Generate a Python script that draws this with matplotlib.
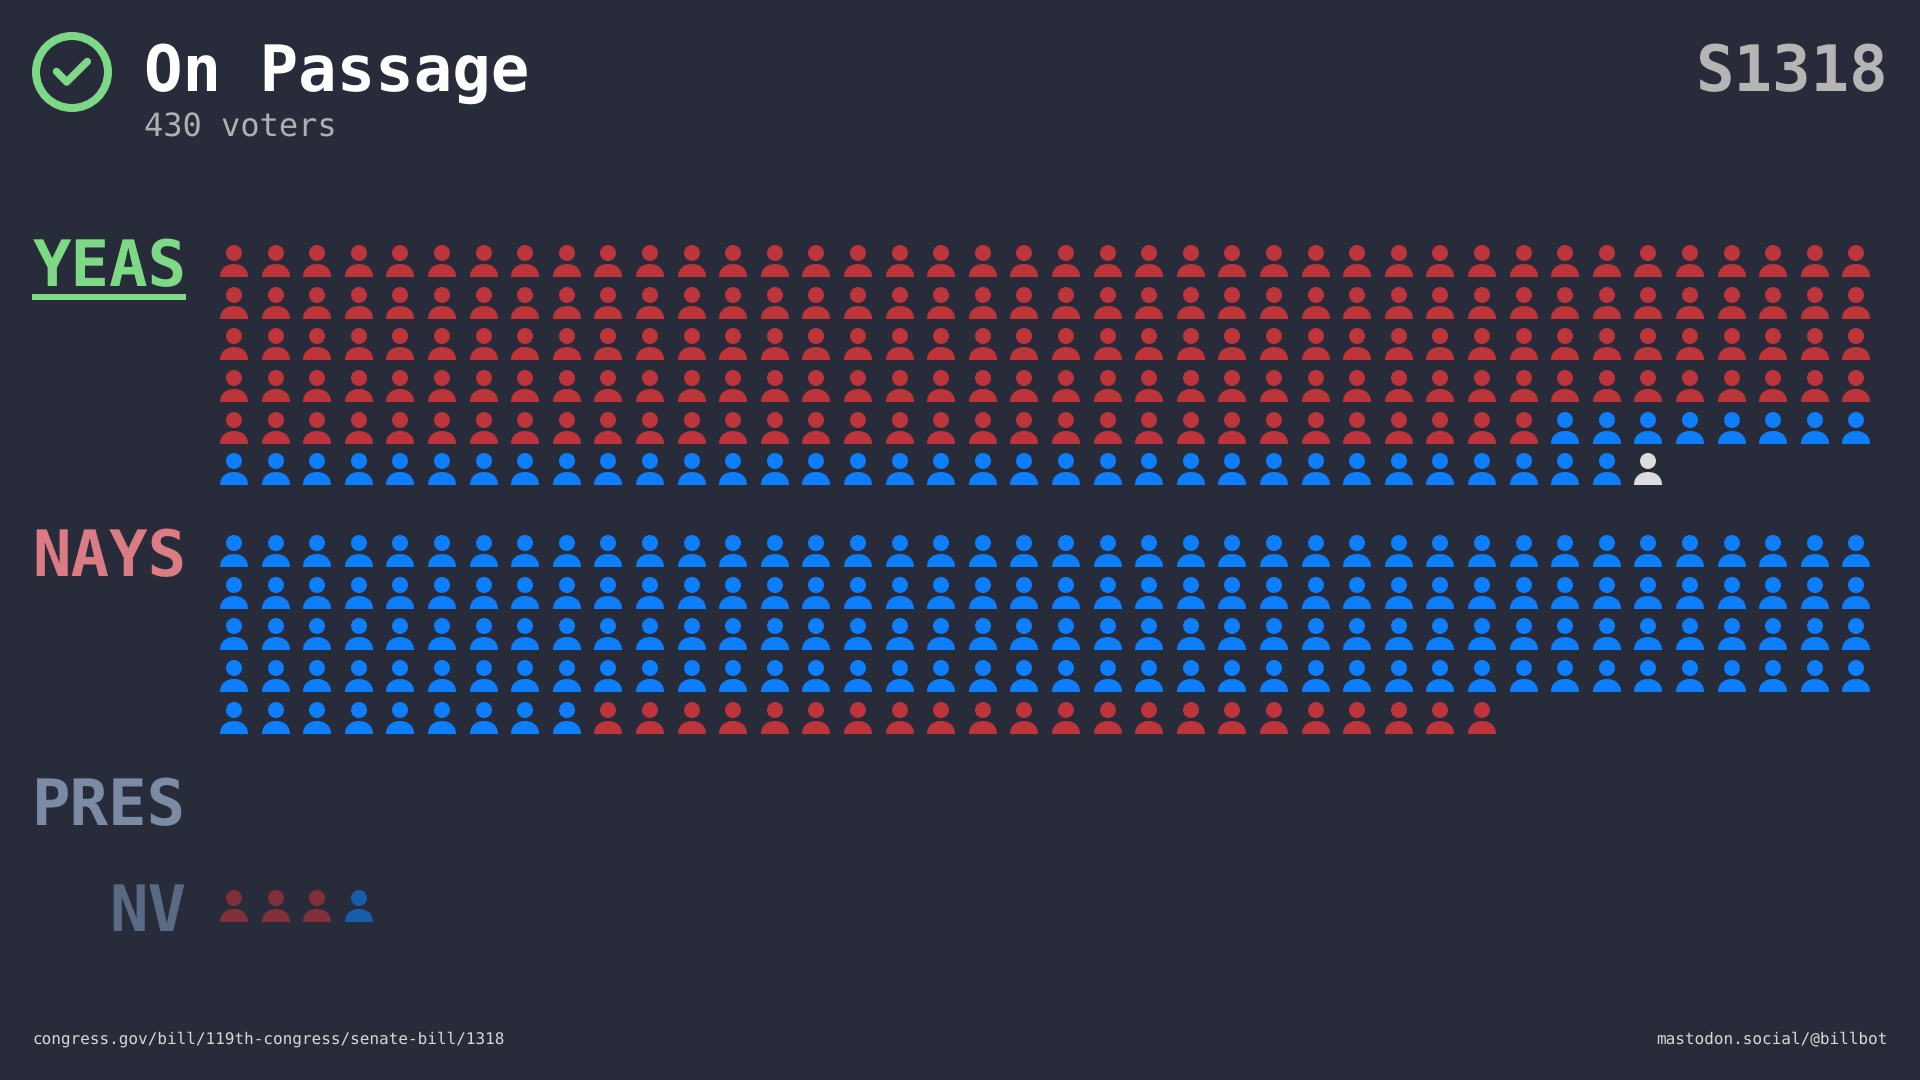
#! /usr/bin/env python
import matplotlib
matplotlib.use("Agg")
import matplotlib.pyplot as plt
from matplotlib.patches import Circle, PathPatch
from matplotlib.path import Path

BG = "#282c3a"
RED = "#bd343b"
BLUE = "#0d7efd"
WHITE = "#dddddd"

# votes per party, in the order they fill the grid
yeas_parties = ["R", "D", "I"]
yeas_counts = [192, 42, 1]
nays_parties = ["D", "R"]
nays_counts = [169, 22]
nv_parties = ["R", "D"]
nv_counts = [3, 1]

title = "On Passage"
voters = "430 voters"
bill = "S1318"
source = "congress.gov/bill/119th-congress/senate-bill/1318"
handle = "mastodon.social/@billbot"

COLORS = {"R": RED, "D": BLUE, "I": WHITE}
COLS = 40
X0 = 234
DX = 41.6
DY = 41.6
MONO = "DejaVu Sans Mono"

plt.rcParams["text.hinting"] = "no_hinting"
plt.rcParams["text.hinting_factor"] = 1


def px(size):
    # font size in pixels to points at 100 dpi
    return size * 72 / 100


def person(ax, cx, cy, color, alpha=1.0):
    ax.add_patch(Circle((cx, cy), 8, fc=color, ec="none", alpha=alpha))
    top, bot, w = cy + 11, cy + 24, 14
    verts = [(cx - w, bot), (cx - w, bot - 8), (cx - w * 0.6, top), (cx, top),
             (cx + w * 0.6, top), (cx + w, bot - 8), (cx + w, bot), (cx - w, bot)]
    codes = [Path.MOVETO, Path.CURVE4, Path.CURVE4, Path.CURVE4,
             Path.CURVE4, Path.CURVE4, Path.CURVE4, Path.CLOSEPOLY]
    ax.add_patch(PathPatch(Path(verts, codes), fc=color, ec="none", alpha=alpha))


def draw_group(ax, parties, counts, y0, alpha=1.0):
    i = 0
    for party, n in zip(parties, counts):
        for _ in range(n):
            col, row = i % COLS, i // COLS
            # icons sit on whole pixels
            person(ax, round(X0 + col * DX), round(y0 + row * DY), COLORS[party], alpha)
            i += 1


fig = plt.figure(figsize=(19.2, 10.8), dpi=100, facecolor=BG)
ax = fig.add_axes([0, 0, 1, 1])
ax.set_xlim(0, 1920)
ax.set_ylim(1080, 0)
ax.axis("off")

# header
ax.add_patch(Circle((72, 72), 36, fc="none", ec="#7ed987", lw=8 * 0.72))
ax.plot([56.5, 66.7, 87.3], [71.5, 82, 61.5], color="#7ed987", lw=7.5 * 0.72,
        solid_capstyle="round", solid_joinstyle="round")
ax.text(144.5, 91, title, family=MONO, weight="bold", size=px(64), color="white", va="baseline")
ax.text(144, 136.5, voters, family=MONO, size=px(32), color="#b0b0b0", va="baseline")
ax.text(1889, 91, bill, family=MONO, weight="bold", size=px(64), color="#b5b5b5",
        va="baseline", ha="right")

# row labels
ax.text(186.5, 286, "YEAS", family=MONO, weight="bold", size=px(64), color="#7ed987",
        va="baseline", ha="right")
ax.plot([32, 186], [297, 297], color="#7ed987", lw=6 * 0.72, solid_capstyle="butt")
ax.text(186.5, 576, "NAYS", family=MONO, weight="bold", size=px(64), color="#db7c85",
        va="baseline", ha="right")
ax.text(186.5, 825, "PRES", family=MONO, weight="bold", size=px(64), color="#7b8aa5",
        va="baseline", ha="right")
ax.text(186, 931, "NV", family=MONO, weight="bold", size=px(64), color="#5a6a85",
        va="baseline", ha="right")

# vote grids
draw_group(ax, yeas_parties, yeas_counts, 253.2)
draw_group(ax, nays_parties, nays_counts, 543.2)
draw_group(ax, nv_parties, nv_counts, 898, alpha=0.6)

# footer
ax.text(32, 1044, source, family=MONO, size=px(16), color="#d8d8d8", va="baseline")
ax.text(1888, 1044, handle, family=MONO, size=px(16), color="#d8d8d8", va="baseline", ha="right")

fig.savefig("out.png", dpi=100, facecolor=BG)
